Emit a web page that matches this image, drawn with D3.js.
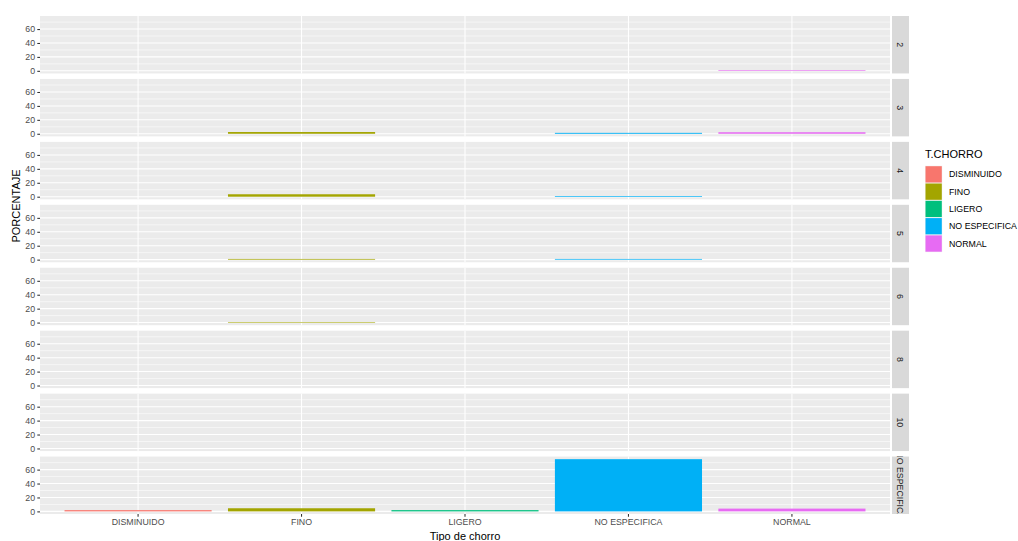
<!DOCTYPE html>
<html>
<head>
<meta charset="utf-8">
<script src="https://cdn.jsdelivr.net/npm/d3@7"></script>
<style>
  html, body { margin: 0; padding: 0; background: #ffffff; }
  svg { display: block; font-family: "Liberation Sans", Arial, sans-serif; }
</style>
</head>
<body>
<svg id="chart" width="1018" height="541"></svg>
<script>
// Facet rows (number of jets) and jet type categories
const facets = ["2", "3", "4", "5", "6", "8", "10", "NO ESPECIFICA"];
const categories = ["DISMINUIDO", "FINO", "LIGERO", "NO ESPECIFICA", "NORMAL"];
const colors = ["#F8766D", "#A3A500", "#00BF7D", "#00B0F6", "#E76BF3"];
const yTicks = [0, 20, 40, 60];

// Percentage per category, one array per facet (null = no bar)
const pct2  = [null, null, null, null, 0.9];
const pct3  = [null, 2.5, null, 1.3, 2.2];
const pct4  = [null, 3.5, null, 1.0, null];
const pct5  = [null, 1.0, null, 1.0, null];
const pct6  = [null, 0.8, null, null, null];
const pct8  = [null, null, null, null, null];
const pct10 = [null, null, null, null, null];
const pctNE = [1.8, 4.5, 1.8, 75, 4.0];

const facetValues = [pct2, pct3, pct4, pct5, pct6, pct8, pct10, pctNE];

const rows = [];
facets.forEach((f, i) => {
  facetValues[i].forEach((v, j) => {
    if (v !== null) rows.push({ facet: f, cat: categories[j], value: v });
  });
});

const svg = d3.select("#chart");

// layout
const panelLeft = 40, panelRight = 890;
const panelTop = 16, panelBottom = 514;
const gap = 5.5;
const nF = facets.length;
const panelH = (panelBottom - panelTop - gap * (nF - 1)) / nF;
const stripX = 892, stripW = 17;

const x = d3.scaleBand()
  .domain(categories)
  .range([panelLeft, panelRight])
  .paddingInner(0.1)
  .paddingOuter(0.15);

const yMax = d3.max(rows, d => d.value);
const yPad = yMax * 0.05;
const color = d3.scaleOrdinal().domain(categories).range(colors);

const defs = svg.append("defs");

facets.forEach((f, i) => {
  const top = panelTop + i * (panelH + gap);
  const y = d3.scaleLinear()
    .domain([-yPad, yMax + yPad])
    .range([top + panelH, top]);

  const g = svg.append("g").attr("class", "panel");

  // background
  g.append("rect")
    .attr("x", panelLeft).attr("y", top)
    .attr("width", panelRight - panelLeft).attr("height", panelH)
    .attr("fill", "#EBEBEB");

  // minor grid
  const minor = [10, 30, 50, 70].filter(v => v <= yMax + yPad);
  g.selectAll("line.minor").data(minor).join("line")
    .attr("x1", panelLeft).attr("x2", panelRight)
    .attr("y1", d => y(d)).attr("y2", d => y(d))
    .attr("stroke", "#ffffff").attr("stroke-width", 0.55);

  // major grid
  g.selectAll("line.majorY").data(yTicks).join("line")
    .attr("x1", panelLeft).attr("x2", panelRight)
    .attr("y1", d => y(d)).attr("y2", d => y(d))
    .attr("stroke", "#ffffff").attr("stroke-width", 1.07);
  g.selectAll("line.majorX").data(categories).join("line")
    .attr("x1", d => x(d) + x.bandwidth() / 2).attr("x2", d => x(d) + x.bandwidth() / 2)
    .attr("y1", top).attr("y2", top + panelH)
    .attr("stroke", "#ffffff").attr("stroke-width", 1.07);

  // bars
  g.selectAll("rect.bar").data(rows.filter(r => r.facet === f)).join("rect")
    .attr("class", "bar")
    .attr("x", d => x(d.cat))
    .attr("width", x.bandwidth())
    .attr("y", d => y(d.value))
    .attr("height", d => y(0) - y(d.value))
    .attr("fill", d => color(d.cat));

  // y axis
  const ay = svg.append("g")
    .attr("transform", `translate(${panelLeft},0)`)
    .call(d3.axisLeft(y).tickValues(yTicks).tickSize(2.7).tickPadding(2.2));
  ay.select(".domain").remove();
  ay.selectAll(".tick line").attr("stroke", "#333333").attr("stroke-width", 1.07);
  ay.selectAll(".tick text")
    .attr("fill", "#4D4D4D").attr("font-size", "8.8px")
    .attr("font-family", "Liberation Sans, Arial, sans-serif");

  // strip
  g.append("rect")
    .attr("x", stripX).attr("y", top)
    .attr("width", stripW).attr("height", panelH)
    .attr("fill", "#D9D9D9");
  const cid = "strip-clip-" + i;
  defs.append("clipPath").attr("id", cid)
    .append("rect")
    .attr("x", stripX).attr("y", top)
    .attr("width", stripW).attr("height", panelH);
  g.append("g").attr("clip-path", `url(#${cid})`)
    .append("text")
    .attr("transform", `translate(${stripX + stripW / 2},${top + panelH / 2}) rotate(90)`)
    .attr("text-anchor", "middle")
    .attr("dy", "0.35em")
    .attr("fill", "#1A1A1A")
    .attr("font-size", "8.8px")
    .text(f);
});

// x axis under the last panel
const ax = svg.append("g")
  .attr("transform", `translate(0,${panelBottom})`)
  .call(d3.axisBottom(x).tickSize(2.7).tickPadding(2.5));
ax.select(".domain").remove();
ax.selectAll(".tick line").attr("stroke", "#333333").attr("stroke-width", 1.07);
ax.selectAll(".tick text")
  .attr("fill", "#4D4D4D").attr("font-size", "8.8px")
  .attr("font-family", "Liberation Sans, Arial, sans-serif");

// axis titles
svg.append("text")
  .attr("x", (panelLeft + panelRight) / 2).attr("y", 540)
  .attr("text-anchor", "middle")
  .attr("font-size", "11px").attr("fill", "#000")
  .text("Tipo de chorro");

svg.append("text")
  .attr("transform", "translate(20,206) rotate(-90)")
  .attr("text-anchor", "middle")
  .attr("font-size", "11px").attr("fill", "#000")
  .text("PORCENTAJE");

// legend
const legend = svg.append("g").attr("transform", "translate(925,150)");
legend.append("text")
  .attr("x", 0).attr("y", 8)
  .attr("font-size", "11px").attr("fill", "#000")
  .text("T.CHORRO");
const keyH = 17.3;
const items = legend.selectAll("g.item").data(categories).join("g")
  .attr("transform", (d, i) => `translate(0,${15.7 + i * keyH})`);
items.append("rect")
  .attr("width", 17.3).attr("height", 17.3)
  .attr("fill", "#F2F2F2");
items.append("rect")
  .attr("x", 0.5).attr("y", 0.5)
  .attr("width", 16.3).attr("height", 16.3)
  .attr("fill", d => color(d));
items.append("text")
  .attr("x", 24).attr("y", keyH / 2)
  .attr("dy", "0.35em")
  .attr("font-size", "8.8px").attr("fill", "#000")
  .text(d => d);
</script>
</body>
</html>
